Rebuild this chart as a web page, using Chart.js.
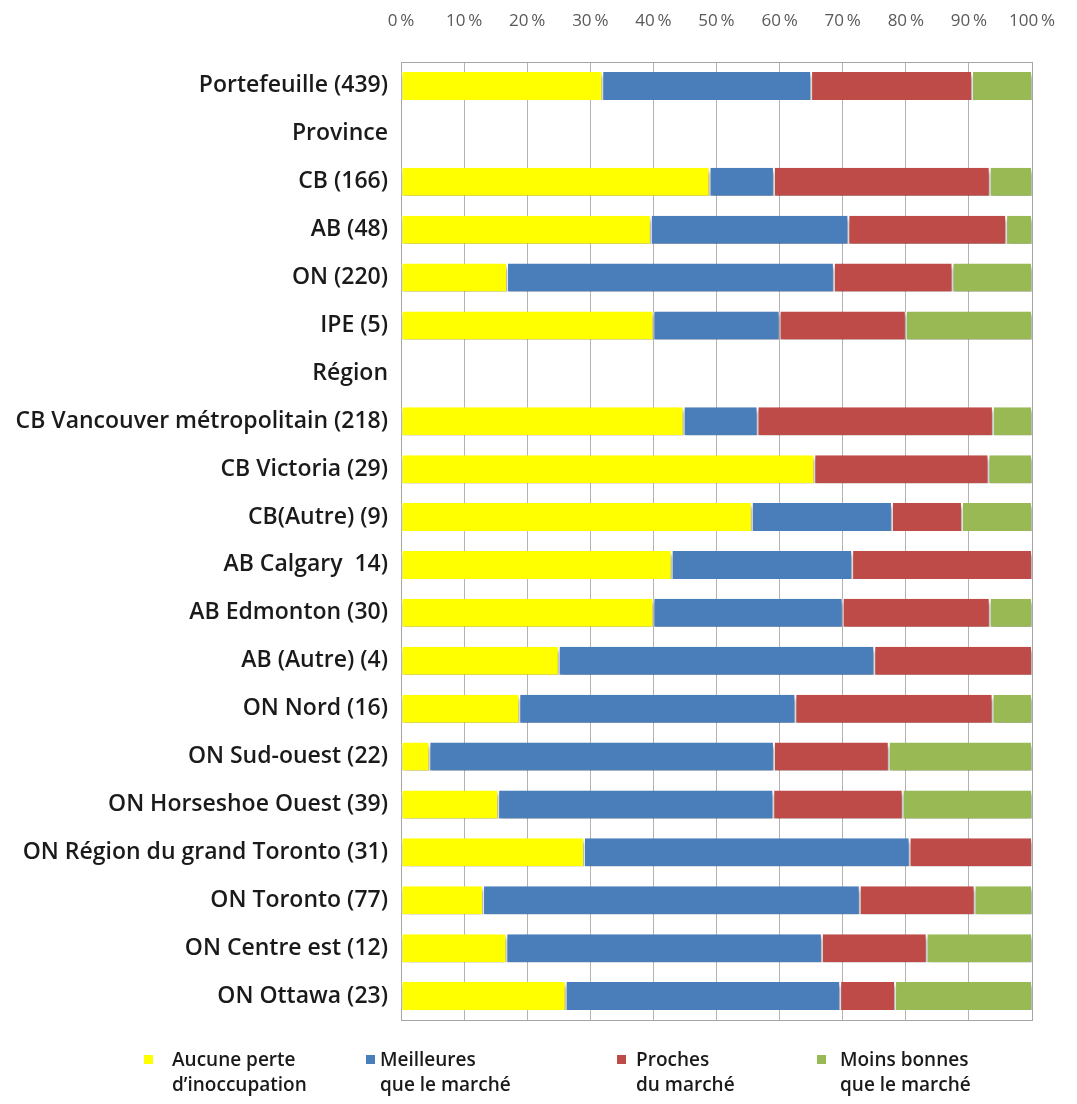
<!DOCTYPE html>
<html>
<head>
<meta charset="utf-8">
<script src="https://cdn.jsdelivr.net/npm/chart.js@4"></script>
<style>
  html, body { margin: 0; padding: 0; background: #fff; }
  #wrap { width: 1077px; height: 1104px; position: relative; }
</style>
</head>
<body>
<div id="wrap"><canvas id="chart"></canvas></div>
<script>
const categories = [
  "Portefeuille (439)", "Province", "CB (166)", "AB (48)", "ON (220)", "IPE (5)", "Région",
  "CB Vancouver métropolitain (218)", "CB Victoria (29)", "CB(Autre) (9)", "AB Calgary  14)",
  "AB Edmonton (30)", "AB (Autre) (4)", "ON Nord (16)", "ON Sud-ouest (22)",
  "ON Horseshoe Ouest (39)", "ON Région du grand Toronto (31)", "ON Toronto (77)",
  "ON Centre est (12)", "ON Ottawa (23)"
];
const seriesNames = [
  ["Aucune perte", "d’inoccupation"],
  ["Meilleures", "que le marché"],
  ["Proches", "du marché"],
  ["Moins bonnes", "que le marché"]
];
// percentages per row (null = heading row, no bar)
const aucunePerte = [31.9, null, 48.9, 39.6, 16.8, 40, null, 44.8, 65.5, 55.6, 42.9, 40, 25, 18.75, 4.5, 15.4, 29.0, 13.0, 16.7, 26.1];
const meilleures  = [33.1, null, 10.2, 31.3, 51.8, 20, null, 11.7, 0, 22.2, 28.6, 30, 50, 43.75, 54.6, 43.6, 51.6, 59.7, 50, 43.5];
const proches     = [25.5, null, 34.2, 25.0, 18.8, 20, null, 37.3, 27.6, 11.1, 28.5, 23.3, 25, 31.25, 18.2, 20.5, 19.4, 18.2, 16.6, 8.7];
const moinsBonnes = [9.5, null, 6.7, 4.1, 12.6, 20, null, 6.2, 6.9, 11.1, 0, 6.7, 0, 6.25, 22.7, 20.5, 0, 9.1, 16.7, 21.7];
const tickLabels = ["0\u2009%", "10\u2009%", "20\u2009%", "30\u2009%", "40\u2009%", "50\u2009%", "60\u2009%", "70\u2009%", "80\u2009%", "90\u2009%", "100\u2009%"];

const colors = ["#FFFF00", "#4A7EBB", "#BE4B48", "#98B954"];
const FONT = "'Open Sans', sans-serif";

const datasets = [aucunePerte, meilleures, proches, moinsBonnes].map((d, i) => ({
  label: seriesNames[i].join(" "),
  data: d,
  backgroundColor: colors[i],
  borderColor: "#ffffff",
  borderWidth: { left: 1, right: 1, top: 0, bottom: 0 },
  borderSkipped: false,
  categoryPercentage: 1,
  barPercentage: 0.585,
}));

// soft shadow under bars, like the spreadsheet original
const shadowPlugin = {
  id: "shadow",
  beforeDatasetsDraw(chart) {
    const ctx = chart.ctx;
    ctx.save();
    ctx.shadowColor = "rgba(0,0,0,0.45)";
    ctx.shadowBlur = 4;
    ctx.shadowOffsetY = 4;
    ctx.shadowOffsetX = 1;
  },
  afterDatasetsDraw(chart) {
    chart.ctx.restore();
  },
};

const framePlugin = {
  id: "frame",
  beforeDatasetsDraw(chart) {
    const { ctx, chartArea: a } = chart;
    ctx.save();
    ctx.strokeStyle = "#a6a6a6";
    ctx.lineWidth = 1;
    ctx.strokeRect(a.left + 0.5, a.top + 0.5, a.right - a.left, a.bottom - a.top);
    ctx.restore();
  },
};

// two-line legend at the bottom
const legendPlugin = {
  id: "twoLineLegend",
  afterDraw(chart) {
    const ctx = chart.ctx;
    const markX = [144, 366, 617, 817];
    const textX = [172, 380, 636, 840];
    ctx.save();
    ctx.font = `600 19px ${FONT}`;
    ctx.textBaseline = "middle";
    ctx.textAlign = "left";
    chart.data.datasets.forEach((ds, i) => {
      ctx.fillStyle = ds.backgroundColor;
      ctx.fillRect(markX[i], 1055, 9, 9);
      ctx.fillStyle = "#1a1a1a";
      seriesNames[i].forEach((line, j) => {
        ctx.fillText(line, textX[i], 1061 + j * 25);
      });
    });
    ctx.restore();
  },
};

new Chart(document.getElementById("chart"), {
  type: "bar",
  data: { labels: categories, datasets },
  options: {
    indexAxis: "y",
    responsive: true,
    maintainAspectRatio: false,
    animation: false,
    layout: { padding: { left: 0, right: 45, top: 0, bottom: 84 } },
    plugins: {
      legend: { display: false },
      tooltip: { enabled: false },
    },
    scales: {
      x: {
        position: "top",
        stacked: true,
        min: 0,
        max: 100,
        ticks: {
          stepSize: 10,
          color: "#595959",
          font: { family: FONT, size: 17 },
          padding: 31,
          callback: (v) => tickLabels[Math.round(v / 10)],
        },
        grid: { color: "#b3b3b3", drawTicks: false },
        border: { display: false },
        afterFit: (s) => { s.height = 62; s.paddingLeft = 0; s.paddingRight = 0; },
      },
      y: {
        stacked: true,
        ticks: {
          color: "#1a1a1a",
          font: { family: FONT, size: 23, weight: "600" },
          padding: 5,
          autoSkip: false,
        },
        grid: { display: false },
        border: { display: false },
        afterFit: (s) => { s.width = 401; },
      },
    },
  },
  plugins: [framePlugin, shadowPlugin, legendPlugin],
});
</script>
</body>
</html>
